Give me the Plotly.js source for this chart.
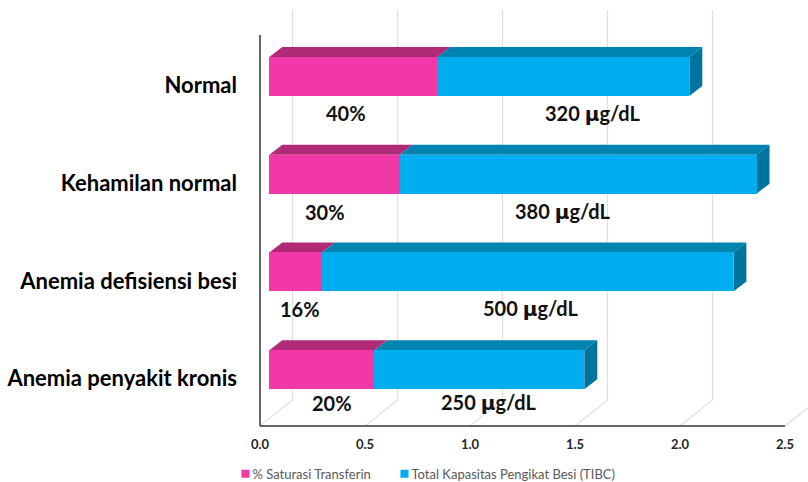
<!DOCTYPE html>
<html>
<head>
<meta charset="utf-8">
<script src="https://cdn.plot.ly/plotly-3.0.1.min.js"></script>
<style>
html,body{margin:0;padding:0;background:#fff}
.legendpoints path{transform:translate(33px,0) scale(.67)}
</style>
</head>
<body>
<div id="chart" style="width:808px;height:482px"></div>
<script>
const categories = ["Normal", "Kehamilan normal", "Anemia defisiensi besi", "Anemia penyakit kronis"];
const saturasi = [0.80, 0.62, 0.25, 0.50];
const tibc = [1.20, 1.70, 1.96, 1.00];
const saturasiLabels = ["40%", "30%", "16%", "20%"];
const tibcLabels = ["320 μg/dL", "380 μg/dL", "500 μg/dL", "250 μg/dL"];
const xTicks = [0, 0.5, 1, 1.5, 2, 2.5];
const seriesNames = ["% Saturasi Transferin", "Total Kapasitas Pengikat Besi (TIBC)"];

// label anchors, in axis units
const saturasiLabelX = [0.41, 0.31, 0.19, 0.345];
const tibcLabelX = [1.585, 1.445, 1.29, 1.09];
const labelY = [0.30, 0.31, 0.30, 0.26];

// pseudo-3D projection, in axis units
const pxPerX = 210, pxPerY = 97.75;
const wallDx = 32.5 / pxPerX, wallDy = 26 / pxPerY;
const barDx = 13 / pxPerX, barDy = 10 / pxPerY;
const barStart = 9.3 / pxPerX, barShift = -7.5 / pxPerY, barWidth = 39 / pxPerY;
const yBottom = 3.5, yAxisTop = -0.5, yWallTop = yAxisTop - 25 / pxPerY;

const colors = {
  pink: "#f238a8", pinkTop: "#b12a78",
  blue: "#00aeef", blueTop: "#0083ae", blueSide: "#00749c",
  grid: "#e0e0e0", axis: "#333333"
};

const yIdx = categories.map((_, i) => i);
const yBar = yIdx.map(i => i + barShift);
const ends1 = saturasi.map(v => barStart + v);
const ends2 = saturasi.map((v, i) => barStart + v + tibc[i]);

const traces = [
  {type: "bar", orientation: "h", name: seriesNames[0], y: yBar, x: saturasi,
   base: yIdx.map(() => barStart), width: barWidth, marker: {color: colors.pink}, hoverinfo: "skip"},
  {type: "bar", orientation: "h", name: seriesNames[1], y: yBar, x: tibc, legend: "legend2",
   base: ends1, width: barWidth, marker: {color: colors.blue}, hoverinfo: "skip"}
];

const poly = (pts, fill) => ({
  type: "path", xref: "x", yref: "y", layer: "below",
  path: "M" + pts.map(p => p[0] + "," + p[1]).join("L") + "Z",
  fillcolor: fill, line: {width: 0}
});
const seg = (x0, y0, x1, y1, color, w) => ({
  type: "line", xref: "x", yref: "y", layer: "below", x0, y0, x1, y1,
  line: {color, width: w}
});

const shapes = [];
xTicks.forEach(t => {
  shapes.push(seg(t + wallDx, yWallTop, t + wallDx, yBottom - wallDy, colors.grid, 1.3));
  shapes.push(seg(t, yBottom, t + wallDx, yBottom - wallDy, colors.grid, 1.3));
});
shapes.push(seg(0, yAxisTop, 0, yBottom, colors.axis, 1.5));
shapes.push(seg(0, yBottom, xTicks[xTicks.length - 1], yBottom, colors.axis, 1.5));

yBar.forEach((y, i) => {
  const top = y - barWidth / 2, bot = y + barWidth / 2;
  shapes.push(poly([[barStart, top], [ends1[i], top], [ends1[i] + barDx, top - barDy], [barStart + barDx, top - barDy]], colors.pinkTop));
  shapes.push(poly([[ends1[i], top], [ends2[i], top], [ends2[i] + barDx, top - barDy], [ends1[i] + barDx, top - barDy]], colors.blueTop));
  shapes.push(poly([[ends2[i], top], [ends2[i] + barDx, top - barDy], [ends2[i] + barDx, bot - barDy], [ends2[i], bot]], colors.blueSide));
});

const annFont = {family: "Lato, sans-serif", size: 20, color: "#111"};
const ann = (text, x, y) => ({
  text: "<b>" + text.replace("μ", '<span style="font-family:DejaVu Sans">μ</span>') + "</b>",
  x, y, xref: "x", yref: "y", showarrow: false, font: annFont, xanchor: "center", yanchor: "middle"
});
const annotations = [];
yIdx.forEach(i => {
  annotations.push(ann(saturasiLabels[i], saturasiLabelX[i], i + labelY[i]));
  annotations.push(ann(tibcLabels[i], tibcLabelX[i], i + labelY[i]));
});

const legendBase = {
  orientation: "h", xanchor: "left", y: -0.107, yanchor: "middle",
  font: {family: "Lato, sans-serif", size: 13, color: "#595959"}, bgcolor: "rgba(0,0,0,0)"
};

const layout = {
  width: 808, height: 482, paper_bgcolor: "#fff", plot_bgcolor: "rgba(0,0,0,0)",
  margin: {l: 257, r: 0, t: 10, b: 53, pad: 0, autoexpand: false},
  barmode: "overlay", bargap: 0,
  shapes, annotations, showlegend: true,
  xaxis: {range: [-3 / pxPerX, 548 / pxPerX], tickvals: xTicks, ticktext: xTicks.map(t => t.toFixed(1)),
    showgrid: false, zeroline: false, showline: false, ticks: "", ticklen: 0, ticklabelstandoff: 6,
    tickfont: {family: "Lato, sans-serif", size: 13, color: "#262626", weight: 700}, fixedrange: true},
  yaxis: {range: [yBottom + 3 / pxPerY, yWallTop], tickvals: yIdx.map(i => i + 1.5 / pxPerY), ticktext: categories.map(c => "<b>" + c + "</b>"),
    showgrid: false, zeroline: false, showline: false, ticks: "", ticklabelstandoff: 19,
    tickfont: {family: "Lato, sans-serif", size: 22, color: "#000"}, fixedrange: true},
  legend: Object.assign({x: -0.0808}, legendBase),
  legend2: Object.assign({x: 0.2078}, legendBase)
};

Plotly.newPlot("chart", traces, layout, {displayModeBar: false, staticPlot: true});
</script>
</body>
</html>
